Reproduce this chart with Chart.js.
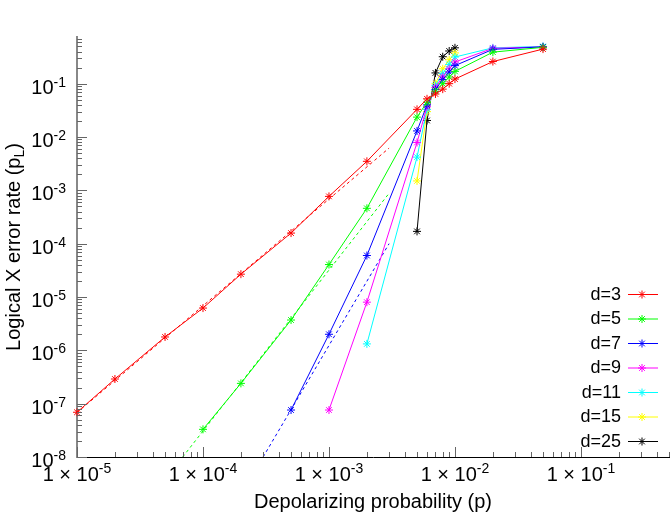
<!DOCTYPE html>
<html lang="en">
<head>
<meta charset="UTF-8">
<title>Logical X error rate</title>
<script src="https://cdn.jsdelivr.net/npm/chart.js"></script>
<style>
    body { margin: 0; background: #fff; }
</style>
</head>
<body>
<canvas id="chart" width="672" height="512"></canvas>
<script>
// depolarizing probabilities (x) shared by all series, null = no point
const pValues = [1e-5, 2e-5, 5e-5, 1e-4, 2e-4, 5e-4, 1e-3, 2e-3, 5e-3, 6e-3, 7e-3, 8e-3, 9e-3, 1e-2, 2e-2, 5e-2];

const d3  = [6.9e-8, 2.9e-7, 1.78e-6, 6.2e-6, 2.68e-5, 1.58e-4, 7.7e-4, 3.5e-3, 0.033, 0.052, 0.064, 0.079, 0.10, 0.122, 0.26, 0.445];
const d5  = [null, null, null, 3.3e-8, 2.4e-7, 3.7e-6, 4.06e-5, 4.6e-4, 0.0236, 0.045, 0.072, 0.10, 0.133, 0.17, 0.39, 0.48];
const d7  = [null, null, null, null, null, 7.6e-8, 2.0e-6, 6.0e-5, 0.013, 0.040, 0.078, 0.12, 0.165, 0.218, 0.44, 0.49];
const d9  = [null, null, null, null, null, null, 7.6e-8, 8.0e-6, 7.9e-3, 0.037, 0.085, 0.135, 0.19, 0.255, 0.46, 0.49];
const d11 = [null, null, null, null, null, null, null, 1.32e-6, 4.2e-3, 0.033, 0.092, 0.155, 0.23, 0.316, 0.47, 0.50];
const d15 = [null, null, null, null, null, null, null, null, 1.5e-3, 0.030, 0.10, 0.19, 0.28, 0.377, null, null];
const d25 = [null, null, null, null, null, null, null, null, 1.7e-4, 0.0204, 0.159, 0.32, 0.41, 0.47, null, null];

const seriesNames = ["d=3", "d=5", "d=7", "d=9", "d=11", "d=15", "d=25"];
const seriesValues = [d3, d5, d7, d9, d11, d15, d25];
const seriesColors = ["#ff0000", "#00ff00", "#0000ff", "#ff00ff", "#00ffff", "#ffff00", "#000000"];

// dashed fit lines (end points)
const fit3P = [1e-5, 3.0e-3],   fit3Y = [6.8e-8, 6.2e-3];
const fit5P = [6.9e-5, 3.0e-3], fit5Y = [1e-8, 8.8e-4];
const fit7P = [3.0e-4, 3.0e-3], fit7Y = [1e-8, 1.0e-4];

const FONT = '"Liberation Sans", Arial, sans-serif';

const datasets = [];
seriesValues.forEach((vals, i) => {
    datasets.push({
        label: seriesNames[i],
        data: pValues.map((p, j) => ({ x: p, y: vals[j] })).filter(pt => pt.y !== null),
        borderColor: seriesColors[i],
        backgroundColor: seriesColors[i],
        borderWidth: 1,
        pointStyle: "star",
        pointRadius: 4,
        pointBorderWidth: 1,
        clip: false
    });
});
[[fit3P, fit3Y, 0], [fit5P, fit5Y, 1], [fit7P, fit7Y, 2]].forEach(([xs, ys, c]) => {
    datasets.push({
        label: "",
        data: xs.map((x, j) => ({ x: x, y: ys[j] })),
        borderColor: seriesColors[c],
        borderWidth: 1,
        borderDash: [3, 3],
        pointRadius: 0
    });
});

function isDecade(v) {
    const l = Math.log10(v);
    return Math.abs(l - Math.round(l)) < 1e-9;
}

function logTicks(min, max) {
    const out = [];
    for (let e = Math.floor(Math.log10(min)); e <= Math.ceil(Math.log10(max)); e++) {
        for (let m = 1; m <= 9; m++) {
            const v = m * Math.pow(10, e);
            if (v >= min * 0.9999 && v <= max * 1.0001) out.push(v);
        }
    }
    return out;
}

function drawStar(ctx, x, y, r) {
    ctx.beginPath();
    ctx.moveTo(x - r, y); ctx.lineTo(x + r, y);
    ctx.moveTo(x, y - r); ctx.lineTo(x, y + r);
    const d = r * Math.SQRT1_2;
    ctx.moveTo(x - d, y - d); ctx.lineTo(x + d, y + d);
    ctx.moveTo(x - d, y + d); ctx.lineTo(x + d, y - d);
    ctx.stroke();
}

// ticks, power-of-ten labels, axis titles and the legend
const decorPlugin = {
    id: "decor",
    afterDraw(chart) {
        const ctx = chart.ctx;
        const xs = chart.scales.x, ys = chart.scales.y;
        const area = chart.chartArea;
        ctx.save();

        // y ticks (inward)
        ctx.strokeStyle = "#666";
        ctx.lineWidth = 1;
        logTicks(ys.min, ys.max).forEach(v => {
            const py = Math.round(ys.getPixelForValue(v)) + 0.5;
            const len = isDecade(v) ? 10 : 5;
            ctx.beginPath();
            ctx.moveTo(area.left, py);
            ctx.lineTo(area.left + len, py);
            ctx.stroke();
        });
        // x ticks (inward)
        logTicks(xs.min, xs.max).forEach(v => {
            const px = Math.round(xs.getPixelForValue(v)) + 0.5;
            const len = isDecade(v) ? 10 : 5;
            ctx.beginPath();
            ctx.moveTo(px, area.bottom);
            ctx.lineTo(px, area.bottom - len);
            ctx.stroke();
        });

        ctx.fillStyle = "#000";
        ctx.textBaseline = "alphabetic";
        const baseFont = "20px " + FONT, supFont = "14px " + FONT;

        // y labels: 10^n
        logTicks(ys.min, ys.max).filter(isDecade).forEach(v => {
            const py = ys.getPixelForValue(v);
            const exp = String(Math.round(Math.log10(v)));
            ctx.font = supFont;
            const we = ctx.measureText(exp).width;
            ctx.textAlign = "right";
            const right = area.left - 11;
            ctx.fillText(exp, right, py + 3);
            ctx.font = baseFont;
            ctx.fillText("10", right - we, py + 10);
        });

        // x labels: 1x10^n
        logTicks(xs.min, xs.max).filter(isDecade).forEach(v => {
            const px = xs.getPixelForValue(v);
            const exp = String(Math.round(Math.log10(v)));
            const base = "1 \u00d7 10";
            ctx.font = baseFont;
            const wb = ctx.measureText(base).width;
            ctx.font = supFont;
            const we = ctx.measureText(exp).width;
            const left = px - (wb + we) / 2;
            ctx.textAlign = "left";
            ctx.font = baseFont;
            ctx.fillText(base, left, area.bottom + 24);
            ctx.font = supFont;
            ctx.fillText(exp, left + wb, area.bottom + 16);
        });

        // x title
        ctx.font = "20px " + FONT;
        ctx.textAlign = "center";
        ctx.fillText("Depolarizing probability (p)", (area.left + area.right) / 2, 508);

        // y title with subscript L
        ctx.save();
        ctx.translate(20, (area.top + area.bottom) / 2);
        ctx.rotate(-Math.PI / 2);
        ctx.font = "20px " + FONT;
        const t1 = "Logical X error rate (p", t3 = ")";
        const w1 = ctx.measureText(t1).width, w3 = ctx.measureText(t3).width;
        ctx.font = "14px " + FONT;
        const w2 = ctx.measureText("L").width;
        let x0 = -(w1 + w2 + w3) / 2;
        ctx.textAlign = "left";
        ctx.font = "20px " + FONT;
        ctx.fillText(t1, x0, 0);
        ctx.font = "14px " + FONT;
        ctx.fillText("L", x0 + w1, 4);
        ctx.font = "20px " + FONT;
        ctx.fillText(t3, x0 + w1 + w2, 0);
        ctx.restore();

        // legend, bottom right inside the plot
        ctx.font = "18px " + FONT;
        ctx.textAlign = "right";
        ctx.textBaseline = "middle";
        const n = seriesNames.length;
        seriesNames.forEach((name, i) => {
            const y = area.bottom - 16 - (n - 1 - i) * 24.5;
            const tx = area.right - 48;
            ctx.fillStyle = "#000";
            ctx.fillText(name, tx, y + 1);
            ctx.strokeStyle = seriesColors[i];
            ctx.lineWidth = 1;
            ctx.beginPath();
            ctx.moveTo(tx + 7, y + 0.5);
            ctx.lineTo(tx + 37, y + 0.5);
            ctx.stroke();
            drawStar(ctx, tx + 21, y + 0.5, 4);
        });

        ctx.restore();
    }
};

new Chart(document.getElementById("chart"), {
    type: "line",
    data: { datasets: datasets },
    options: {
        responsive: false,
        animation: false,
        layout: { autoPadding: false, padding: { left: 77, right: 3, top: 37, bottom: 55 } },
        plugins: {
            legend: { display: false },
            tooltip: { enabled: false }
        },
        scales: {
            x: {
                type: "logarithmic",
                min: 1e-5,
                max: 0.5,
                grid: { display: false, drawTicks: false },
                ticks: { display: false },
                border: { display: true, color: "#000", width: 1 }
            },
            y: {
                type: "logarithmic",
                min: 1e-8,
                max: 0.75,
                grid: { display: false, drawTicks: false },
                ticks: { display: false },
                border: { display: true, color: "#888", width: 2 }
            }
        }
    },
    plugins: [decorPlugin]
});
</script>
</body>
</html>
